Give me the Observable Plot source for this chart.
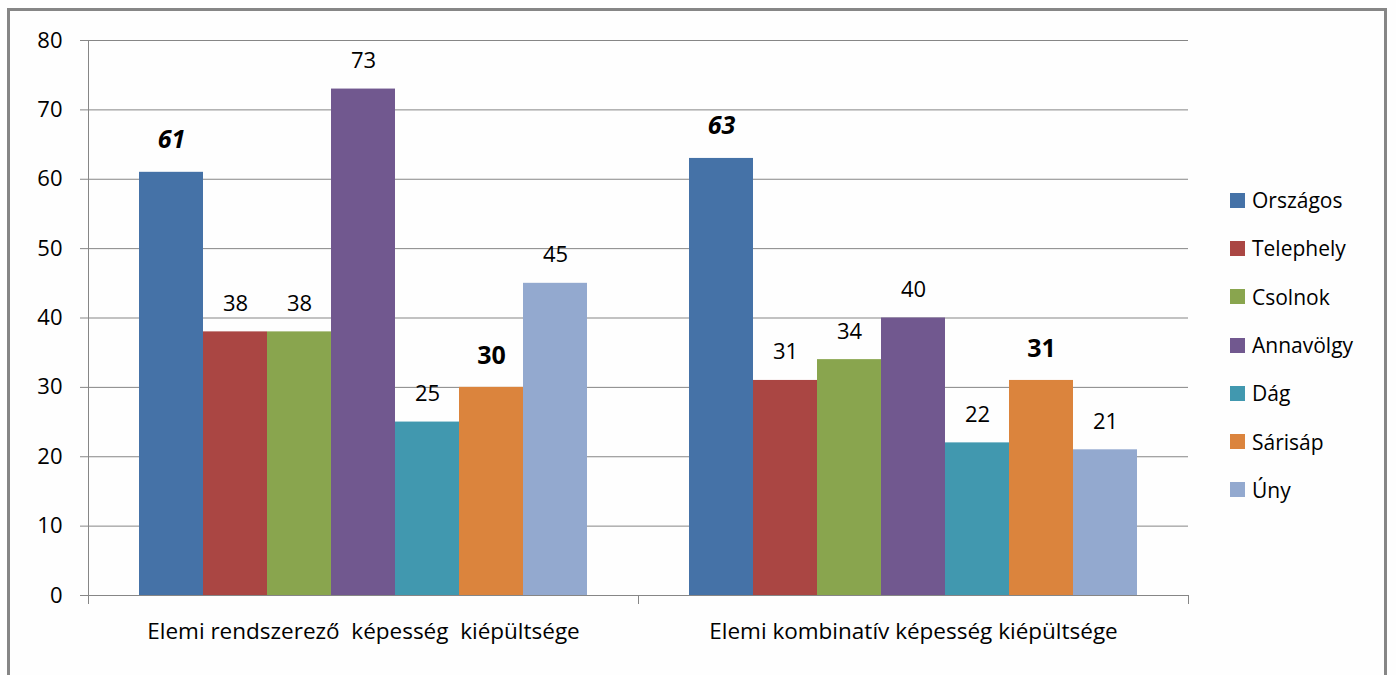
<!DOCTYPE html>
<html>
<head>
<meta charset="utf-8">
<script src="https://cdn.jsdelivr.net/npm/d3@7"></script>
<script src="https://cdn.jsdelivr.net/npm/@observablehq/plot@0.6"></script>
<style>
  html, body { margin: 0; padding: 0; background: #fefefe; }
  #wrap { position: relative; width: 1396px; height: 675px; overflow: hidden; font-family: "Open Sans", Lato, sans-serif; }
  #border { position: absolute; left: 7px; top: 8px; width: 1380px; height: 700px; border: 3px solid #868686; box-sizing: border-box; }
  #chart { position: absolute; left: 0; top: 0; }
  #legend { position: absolute; left: 1230px; top: 188px; }
  .item { display: flex; align-items: center; height: 48.3px; font-size: 21px; color: #000; position: relative; top: -12px; }
  .sw { width: 15px; height: 15px; margin-right: 7px; }
</style>
</head>
<body>
<div id="wrap">
  <div id="border"></div>
  <div id="chart"></div>
  <div id="legend"></div>
</div>
<script>
const categories = ["Elemi rendszerező  képesség  kiépültsége", "Elemi kombinatív képesség kiépültsége"];
const series = ["Országos", "Telephely", "Csolnok", "Annavölgy", "Dág", "Sárisáp", "Úny"];
const valuesRendszerezo = [61, 38, 38, 73, 25, 30, 45];
const valuesKombinativ = [63, 31, 34, 40, 22, 31, 21];
const colors = ["#4572A7", "#AA4643", "#89A54E", "#71588F", "#4198AF", "#DB843D", "#93A9CF"];
const yTicks = [0, 10, 20, 30, 40, 50, 60, 70, 80];
const boldItalicSeries = ["Országos"];
const boldSeries = ["Sárisáp"];

const data = [];
[valuesRendszerezo, valuesKombinativ].forEach((vals, ci) => {
  vals.forEach((v, si) => data.push({category: categories[ci], series: series[si], value: v}));
});
const plain = data.filter(d => !boldItalicSeries.includes(d.series) && !boldSeries.includes(d.series));
const bi = data.filter(d => boldItalicSeries.includes(d.series));
const bo = data.filter(d => boldSeries.includes(d.series));

const grey = "#868686";
const chart = Plot.plot({
  width: 1396,
  height: 675,
  marginLeft: 88,
  marginRight: 208,
  marginTop: 40,
  marginBottom: 80,
  style: {fontFamily: "'Open Sans', Lato, sans-serif", fontSize: "21px", background: "transparent", color: "#000"},
  fx: {domain: categories, padding: 0, label: null, axis: null},
  x: {domain: series, paddingInner: 0, paddingOuter: 0.78, axis: null},
  y: {domain: [0, 80], axis: null},
  color: {domain: series, range: colors},
  marks: [
    Plot.gridY(yTicks, {stroke: grey, strokeOpacity: 1, strokeWidth: 1}),
    Plot.frame({anchor: "left", stroke: grey, strokeOpacity: 1, insetTop: 555, insetBottom: -8}),
    Plot.frame({anchor: "right", stroke: grey, strokeOpacity: 1, insetTop: 555, insetBottom: -8}),
    Plot.frame({anchor: "left", stroke: grey, strokeOpacity: 1, fx: () => categories[0]}),
    Plot.axisY(yTicks, {tickSize: 8, tickPadding: 18, stroke: grey, strokeOpacity: 1, fill: "#000", fontSize: 22, label: null}),
    Plot.axisFx({anchor: "bottom", tickSize: 0, tickPadding: 28, fontSize: 22.5, fill: "#000", label: null}),
    Plot.barY(data, {fx: "category", x: "series", y: "value", fill: "series"}),
    Plot.text(plain, {fx: "category", x: "series", y: "value", text: d => String(d.value), dy: -28, fontSize: 22, fill: "#000"}),
    Plot.text(bi, {fx: "category", x: "series", y: "value", text: d => String(d.value), dy: -32, fontSize: 25, fontWeight: "bold", fontStyle: "italic", fill: "#000"}),
    Plot.text(bo, {fx: "category", x: "series", y: "value", text: d => String(d.value), dy: -31, fontSize: 25, fontWeight: "bold", fill: "#000"})
  ]
});
document.getElementById("chart").appendChild(chart);

const legend = document.getElementById("legend");
series.forEach((s, i) => {
  const item = document.createElement("div");
  item.className = "item";
  const sw = document.createElement("div");
  sw.className = "sw";
  sw.style.background = colors[i];
  const t = document.createElement("span");
  t.textContent = s;
  item.appendChild(sw);
  item.appendChild(t);
  legend.appendChild(item);
});
</script>
</body>
</html>
